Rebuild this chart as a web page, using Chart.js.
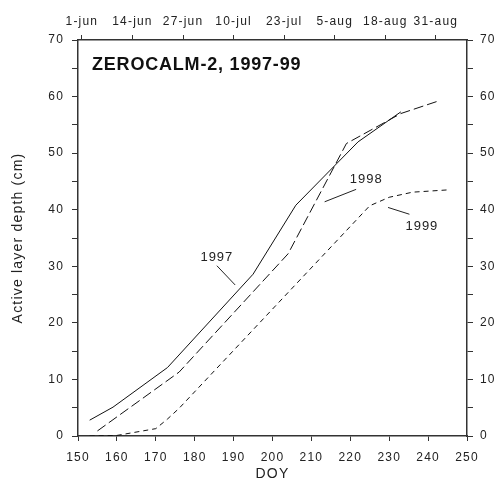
<!DOCTYPE html>
<html>
<head>
<meta charset="utf-8">
<script src="https://cdn.jsdelivr.net/npm/chart.js@4/dist/chart.umd.min.js"></script>
<style>
body{margin:0;background:#fff;}
canvas{display:block;}
</style>
</head>
<body>
<canvas id="alChart" width="494" height="479"></canvas>
<script>
// data (DOY vs depth in cm)
var doy97 = [153, 159, 173, 195, 206, 222, 233];
var depth97 = [2.8, 5.1, 12.1, 28.6, 40.8, 52.0, 57.3];
var doy98 = [155, 176, 204, 219, 233, 243];
var depth98 = [0.9, 11.3, 32.2, 51.7, 57.0, 59.3];
var doy99 = [153, 160, 170, 173, 176, 225, 230, 236, 245];
var depth99 = [0, 0.1, 1.3, 3.0, 4.9, 40.7, 42.2, 43.1, 43.5];

// top date axis
var topDays = [151, 164, 177, 190, 203, 216, 229, 242];
var topLabels = ['1-jun', '14-jun', '27-jun', '10-jul', '23-jul', '5-aug', '18-aug', '31-aug'];

// year labels with leader lines [text, textX, textY, lineX1, lineY1, lineX2, lineY2]
var yearNotes = [
	['1997', 185.7, 31.6, 185.7, 30.1, 190.4, 26.7],
	['1998', 224.1, 45.4, 221.5, 43.6, 213.4, 41.4],
	['1999', 238.4, 37.0, 229.7, 40.4, 235.2, 39.2]
];
var chartTitle = 'ZEROCALM-2, 1997-99';

function toPoints(xs, ys){
	var pts = [];
	for(var i = 0; i < xs.length; i++){
		pts.push({x: xs[i], y: ys[i]});
	}
	return pts;
}

var fontFam = '"Liberation Sans", Arial, sans-serif';
var ink = '#222';
var axisInk = '#333';

var spacing = {
	id: 'spacing',
	beforeDraw: function(chart){
		chart.ctx.letterSpacing = '1.2px';
	}
};

var notes = {
	id: 'notes',
	afterDatasetsDraw: function(chart){
		var ctx = chart.ctx;
		var xs = chart.scales.x, ys = chart.scales.y;
		ctx.save();
		ctx.strokeStyle = ink;
		ctx.lineWidth = 1;
		ctx.fillStyle = ink;
		ctx.font = '13px ' + fontFam;
		ctx.letterSpacing = '1px';
		ctx.textAlign = 'center';
		ctx.textBaseline = 'middle';
		for(var i in yearNotes){
			var n = yearNotes[i];
			ctx.fillText(n[0], xs.getPixelForValue(n[1]), ys.getPixelForValue(n[2]));
			ctx.beginPath();
			ctx.moveTo(xs.getPixelForValue(n[3]), ys.getPixelForValue(n[4]));
			ctx.lineTo(xs.getPixelForValue(n[5]), ys.getPixelForValue(n[6]));
			ctx.stroke();
		}
		// title inside the plot
		ctx.font = 'bold 18px ' + fontFam;
		ctx.letterSpacing = '0.8px';
		ctx.textAlign = 'left';
		ctx.fillStyle = '#111';
		ctx.fillText(chartTitle, xs.getPixelForValue(153.6), ys.getPixelForValue(65.6));
		ctx.restore();
	}
};

function tickFont(){
	return {family: fontFam, size: 12};
}

var ctx = document.getElementById('alChart').getContext('2d');
var chart = new Chart(ctx, {
	type: 'line',
	data: {
		datasets: [{
			label: '1997',
			data: toPoints(doy97, depth97),
			borderColor: '#111',
			borderWidth: 1,
			pointRadius: 0,
			xAxisID: 'x',
			yAxisID: 'y'
		}, {
			label: '1998',
			data: toPoints(doy98, depth98),
			borderColor: '#111',
			borderWidth: 1,
			borderDash: [10, 4],
			pointRadius: 0,
			xAxisID: 'x',
			yAxisID: 'y'
		}, {
			label: '1999',
			data: toPoints(doy99, depth99),
			borderColor: '#111',
			borderWidth: 1,
			borderDash: [5, 4],
			pointRadius: 0,
			xAxisID: 'x',
			yAxisID: 'y'
		}]
	},
	options: {
		responsive: false,
		animation: false,
		devicePixelRatio: 1,
		layout: {padding: 0},
		plugins: {
			legend: {display: false},
			tooltip: {enabled: false}
		},
		scales: {
			x: {
				type: 'linear',
				position: 'bottom',
				min: 150,
				max: 250,
				afterFit: function(s){ s.height = 43; },
				ticks: {stepSize: 10, font: tickFont(), color: ink, padding: 9, maxRotation: 0, autoSkip: false},
				grid: {drawOnChartArea: false, tickLength: 5, color: axisInk},
				border: {color: axisInk, width: 1.5},
				title: {display: true, text: 'DOY', color: ink, font: {family: fontFam, size: 14, lineHeight: 1}, padding: {top: 0, bottom: -2}}
			},
			x2: {
				type: 'linear',
				position: 'top',
				min: 150,
				max: 250,
				afterFit: function(s){ s.height = 40; },
				afterBuildTicks: function(s){
					s.ticks = topDays.map(function(v){ return {value: v}; });
				},
				ticks: {
					font: tickFont(), color: ink, padding: 6, maxRotation: 0, autoSkip: false,
					callback: function(v, i){ return topLabels[i]; }
				},
				grid: {drawOnChartArea: false, tickLength: 5, color: axisInk},
				border: {color: axisInk, width: 1.5}
			},
			y: {
				type: 'linear',
				position: 'left',
				min: 0,
				max: 70,
				afterFit: function(s){ s.width = 78; },
				ticks: {
					stepSize: 5, font: tickFont(), color: ink, padding: 8, autoSkip: false,
					callback: function(v){ return v % 10 === 0 ? v : ''; }
				},
				grid: {drawOnChartArea: false, tickLength: 6, color: axisInk},
				border: {color: axisInk, width: 1.5},
				title: {display: true, text: 'Active layer depth (cm)', color: ink, font: {family: fontFam, size: 14}, padding: {top: 10, bottom: 0}}
			},
			y2: {
				type: 'linear',
				position: 'right',
				min: 0,
				max: 70,
				afterFit: function(s){ s.width = 27; },
				ticks: {
					stepSize: 5, font: tickFont(), color: ink, padding: 7, autoSkip: false,
					callback: function(v){ return v % 10 === 0 ? v : ''; }
				},
				grid: {drawOnChartArea: false, tickLength: 6, color: axisInk},
				border: {color: axisInk, width: 1.5}
			}
		}
	},
	plugins: [spacing, notes]
});
</script>
</body>
</html>
